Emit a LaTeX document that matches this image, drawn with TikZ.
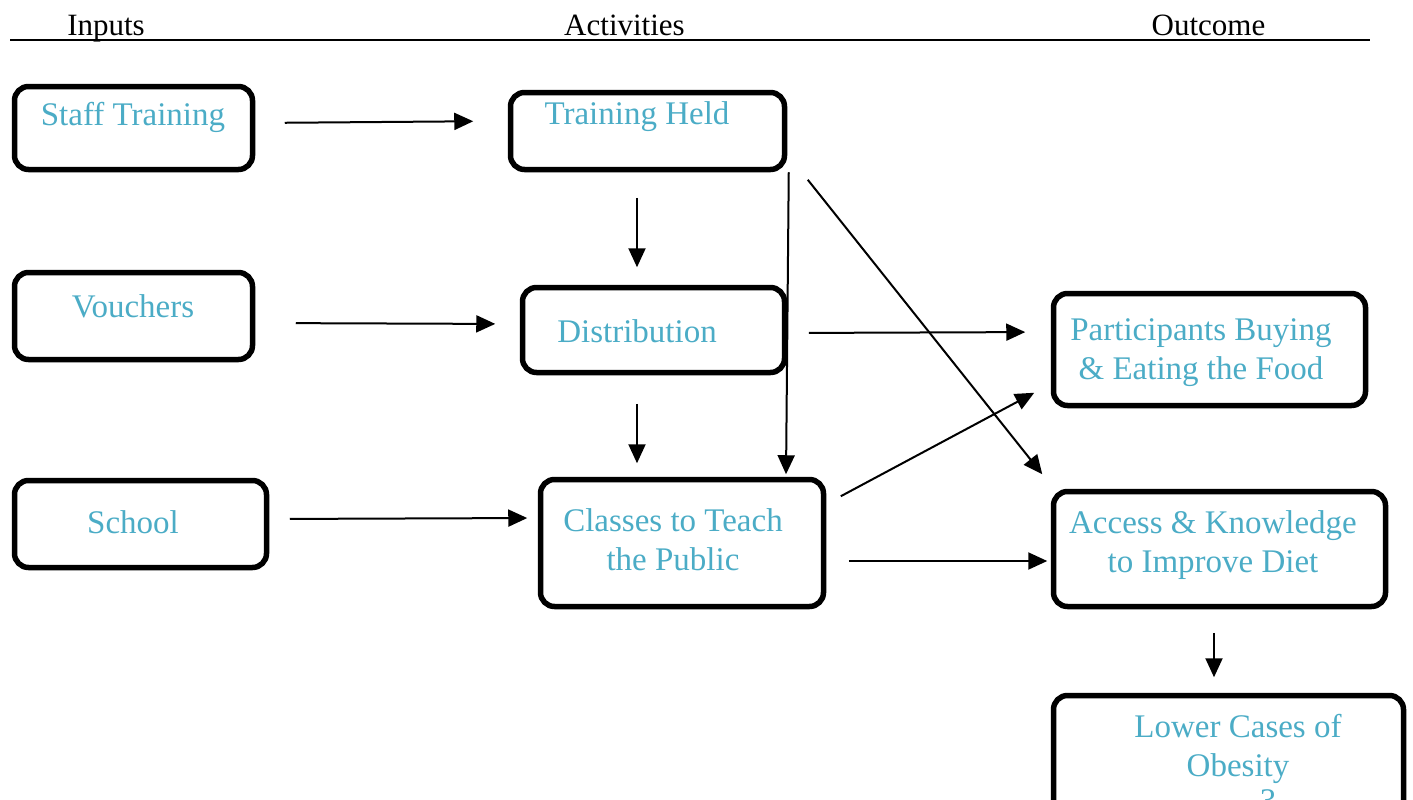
\documentclass[tikz,border=0pt]{standalone}
\usepackage{fontspec}
\setmainfont{Liberation Serif}
\usetikzlibrary{arrows.meta}
\definecolor{boxblue}{HTML}{4BACC6}

\begin{document}
\begin{tikzpicture}[
    x=1pt, y=-1pt,
    box/.style={rectangle, draw, rounded corners=14pt, line width=5.5pt, inner sep=0pt},
    box_text/.style={text=boxblue, font=\fontsize{33}{39}\selectfont, align=center, anchor=base, inner sep=0pt},
    head_text/.style={font=\fontsize{31}{36}\selectfont, anchor=base, inner sep=0pt},
    directed/.style={-{Triangle[length=19pt,width=17pt]}, line width=2pt}
]
    \useasboundingbox (0,0) rectangle (1413,800);
    \clip (0,0) rectangle (1413,800);

    % column heads
    \node[head_text] (hIn) at (106,36) {Inputs};
    \node[head_text] (hAct) at (624.5,36) {Activities};
    \node[head_text] (hOut) at (1208.5,36) {Outcome};
    \draw[line width=1.5pt] (10,40) -- (1370,40);

    % boxes
    \node[box, minimum width=238pt, minimum height=83pt] (ST) at (133.5,128) {};
    \node[box, minimum width=274pt, minimum height=77pt] (TH) at (647.5,131) {};
    \node[box, minimum width=238pt, minimum height=87pt] (VO) at (133.5,316) {};
    \node[box, minimum width=262pt, minimum height=85pt] (DI) at (653.5,330) {};
    \node[box, minimum width=252pt, minimum height=87pt] (SC) at (140.5,524) {};
    \node[box, minimum width=283pt, minimum height=127pt] (CL) at (682,543) {};
    \node[box, minimum width=312pt, minimum height=112pt] (PA) at (1209.5,349.5) {};
    \node[box, minimum width=332pt, minimum height=115pt] (AC) at (1219.5,549) {};
    \node[box, minimum width=350pt, minimum height=135pt] (LO) at (1228.5,763) {};

    % texts (base = last line)
    \node[box_text] (STt) at (133,125) {Staff Training};
    \node[box_text] (THt) at (637,124) {Training Held};
    \node[box_text] (VOt) at (133,317) {Vouchers};
    \node[box_text] (DIt) at (637,342) {Distribution};
    \node[box_text] (SCt) at (133,533) {School};
    \node[box_text] (CLt) at (673,570) {Classes to Teach\\the Public};
    \node[box_text] (PAt) at (1201,379) {Participants Buying\\\& Eating the Food};
    \node[box_text] (ACt) at (1213,572) {Access \& Knowledge\\to Improve Diet};
    \node[box_text] (LOt) at (1238,776) {Lower Cases of\\Obesity};
    \node[box_text] (pg) at (1268,811) {3};

    % arrows
    \draw[directed, shorten <=29.5pt, shorten >=34.5pt] ([yshift=5pt]ST.east) -- ([yshift=10pt]TH.west);
    \draw[directed, shorten <=40.5pt, shorten >=24.5pt] ([yshift=-7pt]VO.east) -- ([yshift=6pt]DI.west);
    \draw[directed, shorten <=20.5pt, shorten >=10.5pt] ([yshift=5pt]SC.east) -- ([yshift=25pt]CL.west);
    \draw[directed, shorten <=25.5pt, shorten >=17.5pt] ([xshift=-10.5pt]TH.south) -- ([xshift=-16.5pt]DI.north);
    \draw[directed, shorten <=28.5pt, shorten >=13.5pt] ([xshift=-16.5pt]DI.south) -- ([xshift=-45pt]CL.north);
    \draw[directed, shorten >=2.5pt] ([xshift=1.5pt]TH.south east) -- ([xshift=104pt]CL.north);
    \draw[directed] ([xshift=20.5pt,yshift=-7.5pt]TH.south east) -- ([xshift=-8.5pt,yshift=14.5pt]AC.north west);
    \draw[directed, shorten <=21.5pt, shorten >=25.5pt] ([yshift=-3pt]DI.east) -- ([yshift=17.5pt]PA.west);
    \draw[directed] ([xshift=14.5pt,yshift=-19.5pt]CL.north east) -- ([xshift=-16.5pt,yshift=15.5pt]PA.south west);
    \draw[directed, shorten <=22.5pt, shorten >=3.5pt] ([yshift=-18pt]CL.east) -- ([yshift=-12pt]AC.west);
    \draw[directed, shorten <=23.5pt, shorten >=15.5pt] ([xshift=-5.5pt]AC.south) -- ([xshift=-14.5pt]LO.north);
\end{tikzpicture}
\end{document}
